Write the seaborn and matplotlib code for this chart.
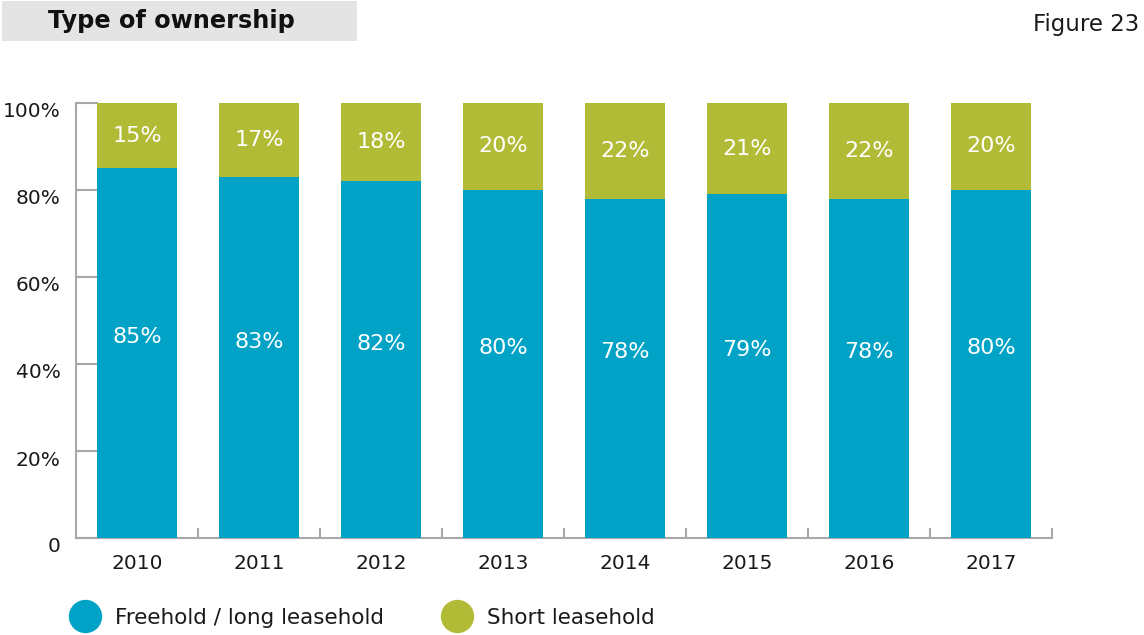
import matplotlib
matplotlib.use("Agg")
import matplotlib.pyplot as plt
from matplotlib.patches import Rectangle
from matplotlib.lines import Line2D
from matplotlib.transforms import ScaledTranslation
import seaborn as sns
import pandas as pd
import numpy as np

years = ["2010", "2011", "2012", "2013", "2014", "2015", "2016", "2017"]
freehold = [85, 83, 82, 80, 78, 79, 78, 80]
short_leasehold = [15, 17, 18, 20, 22, 21, 22, 20]
y_ticks = [0, 20, 40, 60, 80, 100]
y_tick_labels = ["0", "20%", "40%", "60%", "80%", "100%"]

BLUE = "#00a3c6"
OLIVE = "#b2bb35"
AXIS_GREY = "#a8a8a8"
TEXT = "#1a1a1a"

sns.set_theme(style="white")
plt.rcParams["font.family"] = ["DejaVu Sans"]

W, H = 1144, 635
fig = plt.figure(figsize=(W / 100, H / 100), dpi=100)
ax = fig.add_axes([76 / W, (H - 538) / H, 976 / W, 435 / H])

df = pd.DataFrame({
    "year": years,
    "freehold": freehold,
    "short": short_leasehold,
})
df["total"] = df["freehold"] + df["short"]

# stacked bars: full height in olive, freehold share drawn over it in blue
sns.barplot(data=df, x="year", y="total", color=OLIVE, width=0.65,
            saturation=1, linewidth=0, ax=ax, zorder=2)
sns.barplot(data=df, x="year", y="freehold", color=BLUE, width=0.65,
            saturation=1, linewidth=0, ax=ax, zorder=3)

ax.set_xlim(-0.5, len(years) - 0.5)
ax.set_ylim(0, 100)
ax.set_xlabel("")
ax.set_ylabel("")

# value labels
for i, (f, s) in enumerate(zip(freehold, short_leasehold)):
    ax.annotate(f"{f}%", (i, f / 2), xytext=(0, 11.5), textcoords="offset points",
                ha="center", va="center", color="white", fontsize=16, zorder=5)
    ax.annotate(f"{s}%", (i, f + s / 2), ha="center", va="center",
                color="white", fontsize=16, zorder=5)

# spines
for side in ("top", "right"):
    ax.spines[side].set_visible(False)
for side in ("left", "bottom"):
    ax.spines[side].set_color(AXIS_GREY)
    ax.spines[side].set_linewidth(1.5)
    ax.spines[side].set_zorder(1)

# y ticks point inward, labels sit a little below each tick
ax.set_yticks(y_ticks)
ax.set_yticklabels(y_tick_labels)
ax.tick_params(axis="y", left=True, direction="in", length=16, width=1.5,
               color=AXIS_GREY, labelsize=14.5, labelcolor=TEXT, pad=11)
shift = ScaledTranslation(0, -0.07, fig.dpi_scale_trans)
for lbl in ax.get_yticklabels():
    lbl.set_transform(lbl.get_transform() + shift)

# x: labels at category centres, separator ticks between categories
ax.tick_params(axis="x", which="major", bottom=False, length=0, labelsize=14.5,
               labelcolor=TEXT, pad=11.5)
ax.set_xticks(np.arange(len(years)) + 0.5, minor=True)
ax.tick_params(axis="x", which="minor", bottom=True, direction="in", length=7,
               width=1.5, color=AXIS_GREY)

# title box
fig.patches.append(Rectangle((2 / W, 1 - 41 / H), 355 / W, 40 / H,
                             transform=fig.transFigure, facecolor="#e4e4e4",
                             edgecolor="none", zorder=0))
fig.text(48 / W, 1 - 21 / H, "Type of ownership", ha="left", va="center",
         fontsize=17.3, fontweight="bold", color="#111111")
fig.text(1139 / W, 1 - 25 / H, "Figure 23", ha="right", va="center",
         fontsize=16.5, color=TEXT)

# legend
handles = [
    Line2D([], [], marker="o", linestyle="none", markersize=24,
           markerfacecolor=BLUE, markeredgecolor="none"),
    Line2D([], [], marker="o", linestyle="none", markersize=24,
           markerfacecolor=OLIVE, markeredgecolor="none"),
]
fig.legend(handles, ["Freehold / long leasehold", "Short leasehold"],
           loc="center left", bbox_to_anchor=(59 / W, 1 - 618 / H),
           ncol=2, frameon=False, fontsize=15.5, handlelength=1.6,
           handletextpad=0.6, columnspacing=2.6, borderaxespad=0,
           labelcolor=TEXT)

fig.savefig("out.png", dpi=100)
